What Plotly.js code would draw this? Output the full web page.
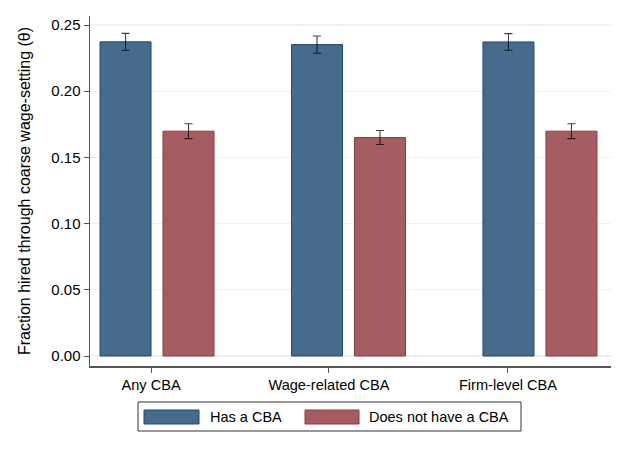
<!DOCTYPE html>
<html>
<head>
<meta charset="utf-8">
<script src="https://cdn.plot.ly/plotly-3.0.1.min.js"></script>
<style>html,body{margin:0;padding:0;background:#fff;}#chart{width:623px;height:453px;}</style>
</head>
<body>
<div id="chart"></div>
<script>
// Data
const categories = ["Any CBA", "Wage-related CBA", "Firm-level CBA"];
const seriesNames = ["Has a CBA", "Does not have a CBA"];
const hasCBA = [0.2373, 0.2352, 0.2372];
const hasCBAErr = [0.0064, 0.0065, 0.0063];
const noCBA = [0.1698, 0.1650, 0.1698];
const noCBAErr = [0.0056, 0.0053, 0.0056];
const yTicks = [0, 0.05, 0.10, 0.15, 0.20, 0.25];

const groupIdx = categories.map((c, i) => i);
const tickPos = [-0.031, 0.898, 1.833]; // label positions (Stata-style offset)

const blueFill = '#476b8c', blueLine = '#1f4a70';
const redFill = '#a65d61', redLine = '#93393f';

const traces = [
  {
    type: 'bar', name: seriesNames[0], x: groupIdx, y: hasCBA,
    marker: {color: blueFill, line: {color: blueLine, width: 1}},
    error_y: {type: 'data', array: hasCBAErr, visible: true, color: 'rgba(0,0,0,0.75)', thickness: 1.1, width: 4},
    showlegend: false, hoverinfo: 'y'
  },
  {
    type: 'bar', name: seriesNames[1], x: groupIdx, y: noCBA,
    marker: {color: redFill, line: {color: redLine, width: 1}},
    error_y: {type: 'data', array: noCBAErr, visible: true, color: 'rgba(0,0,0,0.75)', thickness: 1.1, width: 4},
    showlegend: false, hoverinfo: 'y'
  }
];

const font = {family: 'Liberation Sans, Arial, sans-serif', color: '#000'};

// custom Stata-like legend
const legShapes = [
  {type: 'rect', xref: 'paper', yref: 'paper', x0: (138-90)/521, x1: (521-90)/521, y0: (366-431)/350, y1: (366-402)/350,
   line: {color: '#333', width: 1}, fillcolor: '#fff'},
  {type: 'rect', xref: 'paper', yref: 'paper', x0: (144-90)/521, x1: (199-90)/521, y0: (366-424)/350, y1: (366-410)/350,
   line: {color: blueLine, width: 1}, fillcolor: blueFill},
  {type: 'rect', xref: 'paper', yref: 'paper', x0: (305-90)/521, x1: (359-90)/521, y0: (366-424)/350, y1: (366-410)/350,
   line: {color: redLine, width: 1}, fillcolor: redFill}
];
const legAnn = [
  {xref: 'paper', yref: 'paper', x: (208-90)/521, y: (366-417)/350, xanchor: 'left', yanchor: 'middle',
   text: seriesNames[0], showarrow: false, font: Object.assign({size: 14.5}, font)},
  {xref: 'paper', yref: 'paper', x: (367-90)/521, y: (366-417)/350, xanchor: 'left', yanchor: 'middle',
   text: seriesNames[1], showarrow: false, font: Object.assign({size: 14.5}, font)}
];

const layout = {
  width: 623, height: 453,
  margin: {l: 90, r: 12, t: 16, b: 87},
  paper_bgcolor: '#fff', plot_bgcolor: '#fff',
  barmode: 'group', bargap: 0.342, bargroupgap: 0.19,
  font: Object.assign({size: 13}, font),
  showlegend: false,
  xaxis: {
    range: [-0.35, 2.371], tickvals: tickPos, ticktext: categories,
    showgrid: false, zeroline: false, showline: true, linecolor: '#555', linewidth: 1.5,
    ticks: 'outside', ticklen: 5, tickcolor: '#555', tickwidth: 1,
    tickfont: Object.assign({size: 14.6}, font), fixedrange: true
  },
  yaxis: {
    range: [-0.00755, 0.2568], tickvals: yTicks, tickformat: '.2f',
    showgrid: true, gridcolor: '#eaf2f3', gridwidth: 1.3, zeroline: false,
    showline: true, linecolor: '#555', linewidth: 1.5,
    ticks: 'outside', ticklen: 5, tickcolor: '#555', tickwidth: 1,
    tickfont: Object.assign({size: 15}, font),
    title: {text: 'Fraction hired through coarse wage-setting (θ)', font: Object.assign({size: 16}, font), standoff: 16},
    fixedrange: true
  },
  shapes: legShapes,
  annotations: legAnn
};

Plotly.newPlot('chart', traces, layout, {displayModeBar: false, staticPlot: true});
</script>
</body>
</html>
